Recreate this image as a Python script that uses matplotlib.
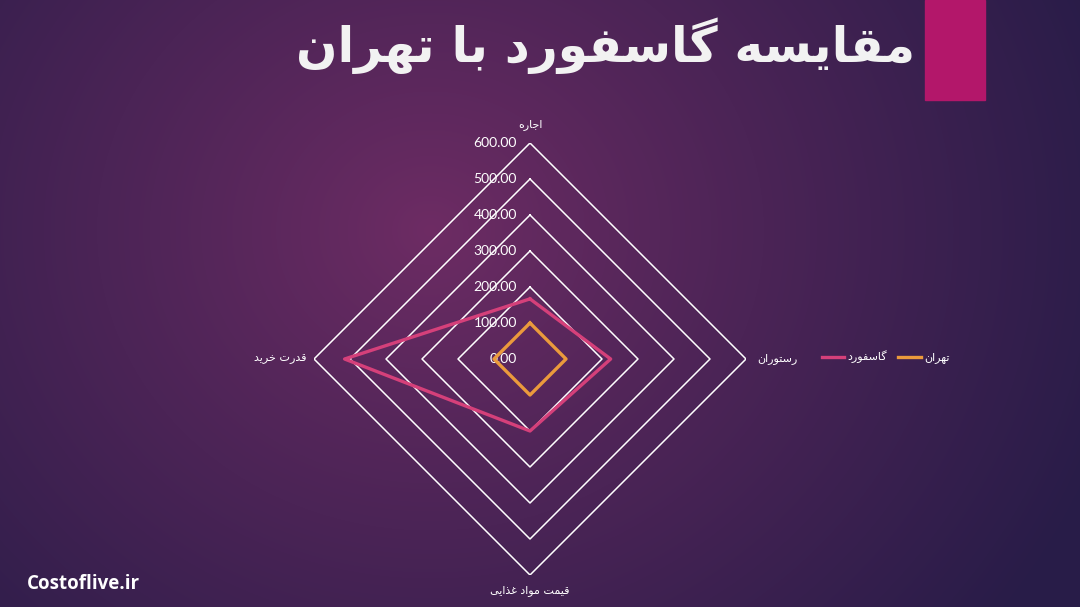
import numpy as np
import matplotlib.pyplot as plt

# data
categories = ['اجاره', 'رستوران', 'قیمت مواد غذایی', 'قدرت خرید']
gasford = [167, 224, 200, 515]
tehran = [100, 100, 100, 100]
levels = [0, 100, 200, 300, 400, 500, 600]
series_names = ['گاسفورد', 'تهران']
title = 'مقایسه گاسفورد با تهران'
site = 'Costoflive.ir'

# simple arabic/persian shaping (isolated, final, initial, medial)
FORMS = {
    'ا': ('\uFE8D', '\uFE8E', None, None),
    'ب': ('\uFE8F', '\uFE90', '\uFE91', '\uFE92'),
    'ت': ('\uFE95', '\uFE96', '\uFE97', '\uFE98'),
    'ج': ('\uFE9D', '\uFE9E', '\uFE9F', '\uFEA0'),
    'خ': ('\uFEA5', '\uFEA6', '\uFEA7', '\uFEA8'),
    'د': ('\uFEA9', '\uFEAA', None, None),
    'ذ': ('\uFEAB', '\uFEAC', None, None),
    'ر': ('\uFEAD', '\uFEAE', None, None),
    'س': ('\uFEB1', '\uFEB2', '\uFEB3', '\uFEB4'),
    'غ': ('\uFECD', '\uFECE', '\uFECF', '\uFED0'),
    'ف': ('\uFED1', '\uFED2', '\uFED3', '\uFED4'),
    'ق': ('\uFED5', '\uFED6', '\uFED7', '\uFED8'),
    'م': ('\uFEE1', '\uFEE2', '\uFEE3', '\uFEE4'),
    'ن': ('\uFEE5', '\uFEE6', '\uFEE7', '\uFEE8'),
    'ه': ('\uFEE9', '\uFEEA', '\uFEEB', '\uFEEC'),
    'و': ('\uFEED', '\uFEEE', None, None),
    'ی': ('\uFBFC', '\uFBFD', '\uFBFE', '\uFBFF'),
    'گ': ('\uFB92', '\uFB93', '\uFB94', '\uFB95'),
}


def shape(text):
    out = []
    for i, ch in enumerate(text):
        if ch not in FORMS:
            out.append(ch)
            continue
        prev = text[i - 1] if i > 0 else ''
        nxt = text[i + 1] if i + 1 < len(text) else ''
        join_prev = prev in FORMS and FORMS[prev][2] is not None
        join_next = nxt in FORMS and FORMS[ch][2] is not None
        iso, fin, ini, med = FORMS[ch]
        if join_prev and join_next:
            out.append(med)
        elif join_prev:
            out.append(fin)
        elif join_next:
            out.append(ini)
        else:
            out.append(iso)
    return ''.join(out)[::-1]


fig = plt.figure(figsize=(10.8, 6.07), dpi=100)

# background gradient
bg = fig.add_axes([0, 0, 1, 1])
yy, xx = np.mgrid[0:607, 0:1080]
d = np.sqrt(((xx - 430) / 1.0) ** 2 + ((yy - 230) / 0.9) ** 2) / 720
d = np.clip(d, 0, 1) ** 0.9
inner = np.array([110, 44, 100]) / 255
outer = np.array([40, 28, 72]) / 255
img = inner[None, None, :] * (1 - d[..., None]) + outer[None, None, :] * d[..., None]
bg.imshow(img, extent=[0, 1080, 607, 0], aspect='auto')
bg.set_xlim(0, 1080)
bg.set_ylim(607, 0)
bg.axis('off')

# pink block top right
bg.add_patch(plt.Rectangle((925, 0), 60, 100, color='#b3176a'))

bg.text(915, 46, shape(title), fontsize=35, fontweight='bold', color='#f2f2f2',
        ha='right', va='center', family='DejaVu Sans')
bg.text(27, 584, site, fontsize=13.5, fontweight='bold', color='white',
        ha='left', va='center', family='Open Sans')

# radar
ax = fig.add_axes([314 / 1080, 32 / 607, 432 / 1080, 432 / 607], projection='polar')
ax.patch.set_alpha(0)
ax.set_theta_offset(np.pi / 2)
ax.set_theta_direction(-1)
ax.set_ylim(0, 600)
ax.grid(False)
ax.spines['polar'].set_visible(False)
ax.set_xticks([])
ax.set_yticks([])

angles = np.linspace(0, 2 * np.pi, len(categories), endpoint=False)
ang_closed = np.append(angles, angles[0])

for lv in levels[1:]:
    ax.plot(ang_closed, [lv] * len(ang_closed), color='white', lw=1.1, zorder=1)
for lv in levels:
    ax.annotate(f'{lv:.2f}', xy=(0, lv), xytext=(-13, 0), textcoords='offset pixels',
                ha='right', va='center', color='white', fontsize=10, family='Lato')

ax.plot(ang_closed, gasford + gasford[:1], color='#d5407a', lw=2.4, zorder=3,
        label=shape(series_names[0]))
ax.plot(ang_closed, tehran + tehran[:1], color='#eb9a3c', lw=2.4, zorder=3,
        label=shape(series_names[1]))

offsets = [(0, 18, 'center'), (11, 0, 'left'), (0, -16, 'center'), (-8, 0, 'right')]
for ang, cat, (dx, dy, ha) in zip(angles, categories, offsets):
    ax.annotate(shape(cat), xy=(ang, 600), xytext=(dx, dy), textcoords='offset pixels',
                ha=ha, va='center', color='white', fontsize=8, family='DejaVu Sans')

fig.legend(loc='center left', bbox_to_anchor=(812 / 1080, 1 - 357 / 607), ncol=2,
           frameon=False, labelcolor='white', handlelength=2.0,
           columnspacing=1.0, handletextpad=0.3, prop={'family': 'DejaVu Sans', 'size': 8})

fig.savefig('out.png', dpi=100)
